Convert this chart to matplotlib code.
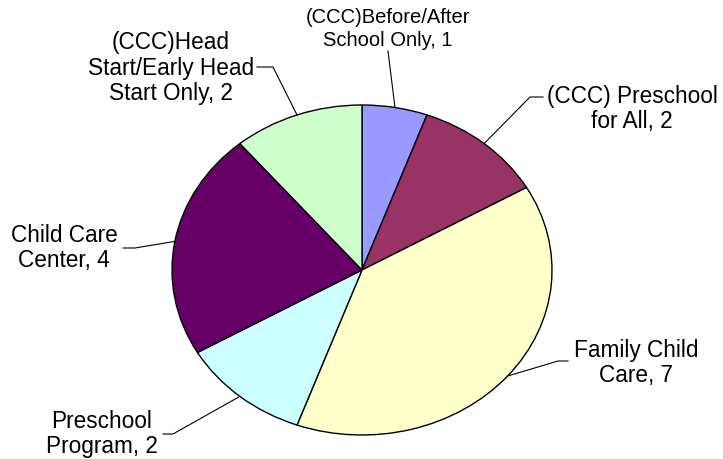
import numpy as np
import matplotlib
matplotlib.use("Agg")
import matplotlib.pyplot as plt

# data (clockwise from 12 o'clock)
labels = ["(CCC)Before/After\nSchool Only, 1",
          "(CCC) Preschool\nfor All, 2",
          "Family Child\nCare, 7",
          "Preschool\nProgram, 2",
          "Child Care\nCenter, 4",
          "(CCC)Head\nStart/Early Head\nStart Only, 2"]
counts = [1, 2, 7, 2, 4, 2]
colors = ["#9999FF", "#993366", "#FFFFCC", "#CCFFFF", "#660066", "#CCFFCC"]

# label layout in pixels: text centre, elbow start, elbow end
text_pos = [(388, 29), (632, 109), (636, 363), (102, 434), (64, 248), (171, 68)]
elbow = [[(388, 52)], [(543, 98), (530, 98)], [(568, 362), (558, 362)],
         [(163, 435), (173, 435)], [(123, 249), (135, 249)], [(257, 68), (273, 68)]]
font_sizes = [14.5, 16.3, 16.3, 16.3, 16.3, 16.3]

W, H = 723, 460
CX, CY, RX, RY = 362, 271, 190, 165


def px(x, y):
    return (x - CX) / RX, (CY - y) / RY


fig = plt.figure(figsize=(W / 100, H / 100), dpi=100)
ax = fig.add_axes([0, 0, 1, 1])

wedges, _ = ax.pie(counts, colors=colors, startangle=90, counterclock=False,
                   wedgeprops=dict(edgecolor="black", linewidth=1))
ax.set_aspect("auto")
ax.set_xlim(-CX / RX, (W - CX) / RX)
ax.set_ylim(-(H - CY) / RY, CY / RY)
ax.axis("off")

for w, lab, tp, el, fs in zip(wedges, labels, text_pos, elbow, font_sizes):
    mid = np.deg2rad((w.theta1 + w.theta2) / 2)
    pts = [(np.cos(mid), np.sin(mid))] + [px(*p) for p in el][::-1]
    xs, ys = zip(*pts)
    ax.plot(xs, ys, color="black", linewidth=0.8)
    ls = 1.22 if fs < 15 else 1.12
    ax.text(*px(*tp), lab, ha="center", va="center", multialignment="center",
            fontsize=fs, family="Liberation Sans", linespacing=ls)

fig.savefig("out.png", dpi=100)
